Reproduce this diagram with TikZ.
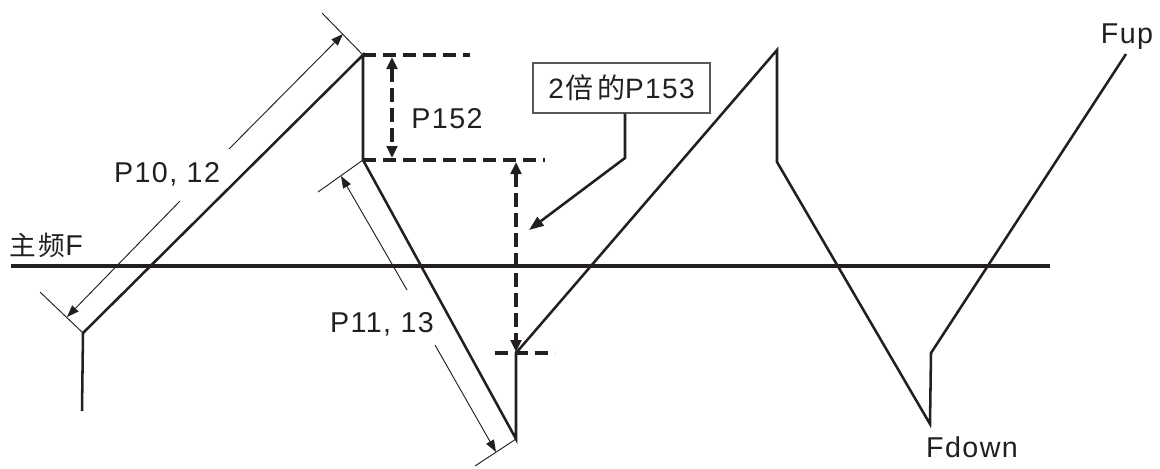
\documentclass[tikz,border=0pt]{standalone}
\usepackage{fontspec}
\setmainfont{Liberation Sans}[LetterSpace=5]
\newfontfamily\cjk{Noto Sans CJK SC}
\usetikzlibrary{arrows.meta}
\definecolor{ink}{HTML}{231F20}
\tikzset{
  wave/.style={draw=ink, line width=1.9pt, line join=miter},
  axis/.style={draw=ink, line width=2.3pt},
  dimline/.style={draw=ink, line width=0.7pt},
  dimarrow/.style={draw=ink, line width=0.7pt, -{Triangle[length=9pt,width=6.5pt]}},
  dashline/.style={draw=ink, line width=2.4pt, dash pattern=on 10pt off 5pt},
  dasharrow/.style={draw=ink, line width=2.4pt, dash pattern=on 10pt off 5pt, {Triangle[length=9pt,width=8pt]}-{Triangle[length=9pt,width=8pt]}},
  lbl/.style={text=ink, inner sep=0pt, anchor=base, font=\fontsize{21.5}{24}\selectfont},
  boxed/.style={draw=ink!75, line width=0.8pt, minimum width=132.75pt, minimum height=37.5pt, inner sep=0pt, text=ink, font=\fontsize{21}{24}\selectfont}
}
\begin{document}
\begin{tikzpicture}[x=0.75pt,y=-0.75pt]
\useasboundingbox (0,0) rectangle (1160,468);
% waveform vertices
\coordinate (w0) at (82,411);
\coordinate (w1) at (83,333);
\coordinate (w2) at (363,55);
\coordinate (w3) at (363,160);
\coordinate (w4) at (516,439);
\coordinate (w5) at (516,353);
\coordinate (w6) at (777,50);
\coordinate (w7) at (777,162);
\coordinate (w8) at (930,424);
\coordinate (w9) at (931,353);
\coordinate (w10) at (1126,54);
% axis
\coordinate (ax0) at (11,266);
\coordinate (ax1) at (1050,266);
\draw[axis] (ax0) -- (ax1);
\draw[wave] (w0) -- (w1) -- (w2) -- (w3) -- (w4) -- (w5) -- (w6) -- (w7) -- (w8) -- (w9) -- (w10);
% P10,12 dimension
\coordinate (e1) at (322,13);
\coordinate (e2) at (40,292);
\draw[dimline] (w2) -- (e1);
\draw[dimline] (w1) -- (e2);
\coordinate (d1a) at (229,149);
\coordinate (d1b) at (343,34);
\coordinate (d1c) at (180,201);
\coordinate (d1d) at (67,317);
\draw[dimarrow] (d1a) -- (d1b);
\draw[dimarrow] (d1c) -- (d1d);
% P11,13 dimension
\coordinate (e3) at (318,192);
\coordinate (e4) at (475,466);
\draw[dimline] (w3) -- (e3);
\draw[dimline] (w4) -- (e4);
\coordinate (d2a) at (407,290);
\coordinate (d2b) at (341,176);
\coordinate (d2c) at (435,345);
\coordinate (d2d) at (496,452);
\draw[dimarrow] (d2a) -- (d2b);
\draw[dimarrow] (d2c) -- (d2d);
% dashed reference lines
\coordinate (h1) at (470,55);
\coordinate (h2) at (545,160);
\coordinate (h3a) at (495,353);
\coordinate (h3b) at (555,353);
\draw[dashline] (w2) -- (h1);
\draw[dashline] (w3) -- (h2);
\draw[dashline] (h3a) -- (h3b);
\coordinate (v1a) at (392,57);
\coordinate (v1b) at (392,158);
\coordinate (v2a) at (516,162);
\coordinate (v2b) at (516,352);
\draw[dasharrow] (v1a) -- (v1b);
\draw[dasharrow] (v2a) -- (v2b);
% labels
\node[lbl] (lp10) at (167,182) {P10, 12};
\node[lbl] (lp152) at (447,128) {P152};
\node[lbl] (lp11) at (382,332) {P11, 13};
\node[lbl] (lfup) at (1127,43) {Fup};
\node[lbl] (lfdown) at (972,457) {Fdown};
\node[lbl, anchor=base west] (lmain) at (9,255) {{\cjk\fontsize{20}{24}\selectfont 主\hspace{2pt}频}F};
% box with leader
\node[boxed] (box) at (621.5,88) {2{\cjk\hspace{1pt}倍\hspace{3pt}的}P153};
\coordinate (l1) at (625,158);
\coordinate (l2) at (529,230);
\draw[draw=ink, line width=1.9pt, -{Triangle[length=11pt,width=8pt]}] (box.south -| l1) -- (l1) -- (l2);
\end{tikzpicture}
\end{document}
